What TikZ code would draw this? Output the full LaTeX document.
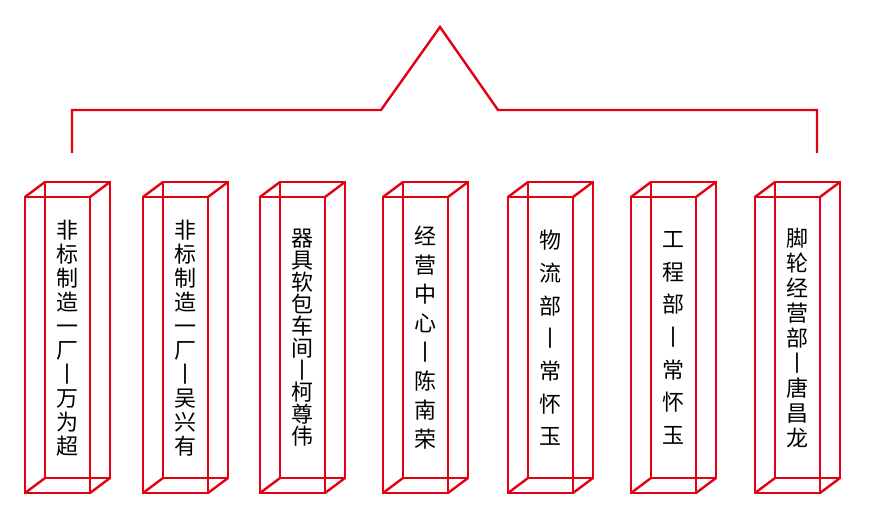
\documentclass[tikz,border=0pt]{standalone}
\usepackage{fontspec}
\newfontfamily\cjk{Noto Sans CJK SC}
\usetikzlibrary{positioning}
\definecolor{boxred}{RGB}{228,0,18}
\begin{document}
\begin{tikzpicture}[
    x=0.75pt, y=-0.75pt,
    edge/.style={draw=boxred, line width=1.8pt},
    label/.style={font=\cjk\fontsize{16.5}{#1}\selectfont, align=center, inner sep=0pt}
  ]
    \useasboundingbox (0,0) rectangle (870,530);
    % Top bracket with peak
    \draw[edge] (72,153) -- (72,110) -- (381,110) -- (440,27) -- (498,110) -- (817,110) -- (817,153);
    % Wireframe prisms with vertical names
    \foreach \i/\x/\sp/\txt in {
        1/25/18/{非\\标\\制\\造\\一\\厂\\丨\\万\\为\\超},
        2/143/18/{非\\标\\制\\造\\一\\厂\\丨\\吴\\兴\\有},
        3/260/16.5/{器\\具\\软\\包\\车\\间\\丨\\柯\\尊\\伟},
        4/383/21.75/{经\\营\\中\\心\\丨\\陈\\南\\荣},
        5/508/24.5/{物\\流\\部\\丨\\常\\怀\\玉},
        6/631/24.5/{工\\程\\部\\丨\\常\\怀\\玉},
        7/755/18.75/{脚\\轮\\经\\营\\部\\丨\\唐\\昌\\龙}} {
      \draw[edge] (\x,197) rectangle ++(65,296);
      \draw[edge] (\x+20,182) rectangle ++(65,296);
      \draw[edge] (\x,197) -- ++(20,-15) (\x+65,197) -- ++(20,-15)
                  (\x,493) -- ++(20,-15) (\x+65,493) -- ++(20,-15);
      \node[label=\sp] (name\i) at (\x+42.5,338) {\txt};
    }
\end{tikzpicture}
\end{document}
